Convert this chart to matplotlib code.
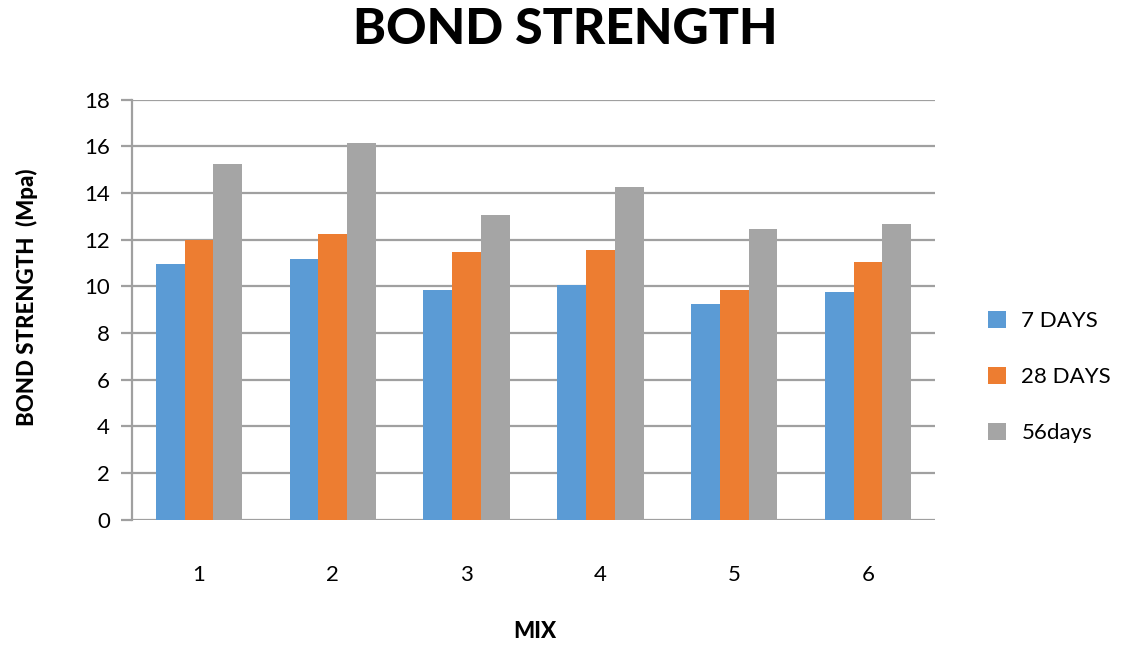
import numpy as np
import matplotlib
matplotlib.use("Agg")
import matplotlib.pyplot as plt

plt.rcParams["font.family"] = ["Lato", "DejaVu Sans"]

mixes = ["1", "2", "3", "4", "5", "6"]
days_7 = [10.95, 11.15, 9.85, 10.05, 9.25, 9.75]
days_28 = [12.0, 12.25, 11.45, 11.55, 9.85, 11.05]
days_56 = [15.25, 16.15, 13.05, 14.25, 12.45, 12.65]
series_labels = ["7 DAYS", "28 DAYS", "56days"]
colors = ["#5b9bd5", "#ed7d31", "#a5a5a5"]

fig = plt.figure(figsize=(11.33, 6.45), dpi=100)
ax = fig.add_axes([132 / 1133, 1 - 519.5 / 645, (935 - 132) / 1133, 420 / 645])

x = np.arange(len(mixes))
w = 0.215
for i, (vals, lab, c) in enumerate(zip([days_7, days_28, days_56], series_labels, colors)):
    ax.bar(x + (i - 1) * w, vals, width=w, color=c, label=lab, zorder=3)

ax.set_xlim(-0.5, len(mixes) - 0.5)
ax.set_ylim(0, 18)
ax.set_yticks(range(0, 19, 2))
ax.set_xticks(x)
ax.set_xticklabels(mixes)
ax.grid(axis="y", color="#a0a0a0", linewidth=1.6, zorder=0)
for s in ["top", "right", "bottom"]:
    ax.spines[s].set_visible(False)
ax.spines["left"].set_color("#a0a0a0")
ax.spines["left"].set_linewidth(1.6)
ax.tick_params(axis="y", length=8, color="#a0a0a0", width=1.6, labelsize=16, pad=8)
ax.tick_params(axis="x", length=0, labelsize=16, pad=33)

fig.text(565 / 1133, 1 - 30 / 645, "BOND STRENGTH", ha="center", va="center",
         fontsize=36, fontweight="black")
fig.text(535 / 1133, 1 - 631 / 645, "MIX", ha="center", va="center",
         fontsize=16, fontweight="black")
fig.text(27 / 1133, 1 - 297 / 645, "BOND STRENGTH  (Mpa)", ha="center", va="center",
         rotation=90, fontsize=16, fontweight="black")

leg = ax.legend(loc="center left", bbox_to_anchor=(968 / 1133, 1 - 377 / 645),
                bbox_transform=fig.transFigure, frameon=False,
                fontsize=16, handlelength=0.8, handleheight=0.8, labelspacing=1.6,
                handletextpad=0.7)

fig.savefig("out.png", dpi=100)
